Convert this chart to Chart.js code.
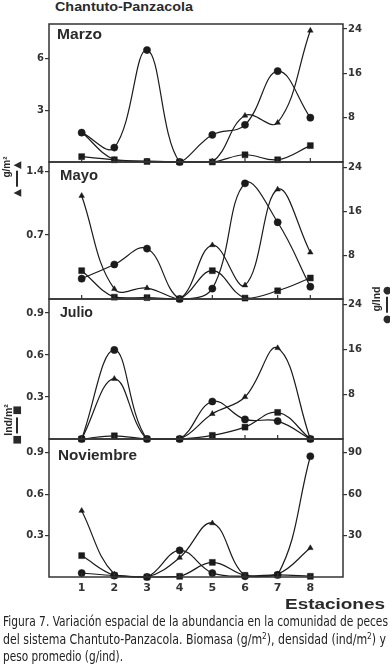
<!DOCTYPE html>
<html>
<head>
<meta charset="utf-8">
<script src="https://cdn.jsdelivr.net/npm/chart.js@4.4.0/dist/chart.umd.min.js"></script>
<style>
  body { margin: 0; background: #fff; }
  #wrap { position: relative; width: 390px; height: 671px; overflow: hidden; font-family: "Liberation Sans", Arial, sans-serif; color: #2a2a2a; }
  canvas { position: absolute; left: 0; }
  .txt { position: absolute; white-space: nowrap; font-weight: bold; line-height: 1; transform-origin: 0 0; }
  .mes { font-size: 14px; }
  .rot { position: absolute; white-space: nowrap; font-weight: bold; line-height: 1; transform: translate(-50%, -50%) rotate(-90deg); }
  .sym { position: absolute; white-space: nowrap; line-height: 1; font-size: 10px; font-family: "DejaVu Sans", sans-serif; transform: translate(-50%, -50%) rotate(-90deg); }
  .sym i { display: inline-block; width: 16px; height: 1.3px; background: #2a2a2a; vertical-align: middle; margin: 0 2px; }
  .cap { position: absolute; left: 3px; white-space: nowrap; font-family: "Liberation Sans Narrow", "DejaVu Sans Condensed", "Liberation Sans", sans-serif; font-size: 13.5px; line-height: 1; color: #222; transform-origin: 0 0; }
</style>
</head>
<body>
<div id="wrap">
  <div class="txt" id="titulo" style="left:55px;top:0px;font-size:13.5px;">Chantuto-Panzacola</div>

  <canvas id="c1" width="390" height="158" style="top:14px"></canvas>
  <canvas id="c2" width="390" height="157" style="top:152px"></canvas>
  <canvas id="c3" width="390" height="160" style="top:289px"></canvas>
  <canvas id="c4" width="390" height="170" style="top:429px"></canvas>

  <div class="txt mes" id="m1" style="left:57px;top:27px;">Marzo</div>
  <div class="txt mes" id="m2" style="left:60px;top:168px;">Mayo</div>
  <div class="txt mes" id="m3" style="left:60px;top:305px;">Julio</div>
  <div class="txt mes" id="m4" style="left:58px;top:448px;">Noviembre</div>

  <div class="rot" style="left:7px;top:167px;font-size:10px;">g/m²</div>
  <div class="sym" style="left:17px;top:179px;">▲<i></i>▲</div>
  <div class="rot" style="left:8px;top:420px;font-size:10.5px;">Ind/m²</div>
  <div class="sym" style="left:17px;top:425px;">■<i></i>■</div>
  <div class="rot" style="left:376px;top:299px;font-size:10.5px;">g/Ind</div>
  <div class="sym" style="left:387px;top:305px;">●<i></i>●</div>

  <div class="txt" id="estaciones" style="left:285px;top:596px;font-size:15px;">Estaciones</div>

  <div class="cap" id="cap1" style="top:615px;">Figura 7. Variación espacial de la abundancia en la comunidad de peces</div>
  <div class="cap" id="cap2" style="top:633px;">del sistema Chantuto-Panzacola. Biomasa (g/m<sup style="font-size:9px;line-height:0">2</sup>), densidad (ind/m<sup style="font-size:9px;line-height:0">2</sup>) y</div>
  <div class="cap" id="cap3" style="top:650px;">peso promedio (g/ind).</div>
</div>

<script>
// estaciones de muestreo
var estaciones = [1, 2, 3, 4, 5, 6, 7, 8];

// Marzo
var biomasaMarzo = [1.72, 0.13, 0.05, 0, 0, 2.69, 2.28, 7.62];
var densidadMarzo = [0.31, 0.13, 0.03, 0, 0, 0.42, 0.13, 0.95];
var pesoMarzo = [5.3, 2.6, 20.2, 0, 4.9, 6.7, 16.4, 8.0];

// Mayo
var biomasaMayo = [1.13, 0.11, 0.12, 0, 0.59, 0.15, 1.2, 0.51];
var densidadMayo = [0.31, 0.02, 0.015, 0, 0.31, 0.01, 0.09, 0.23];
var pesoMayo = [3.7, 6.3, 9.2, 0, 1.9, 21.1, 14.0, 2.25];

// Julio
var biomasaJulio = [0, 0.43, 0, 0, 0.18, 0.30, 0.65, 0];
var densidadJulio = [0, 0.023, 0, 0, 0.026, 0.085, 0.19, 0];
var pesoJulio = [0, 15.9, 0, 0, 6.7, 3.5, 3.2, 0];

// Noviembre
var biomasaNov = [0.48, 0.02, 0, 0.14, 0.39, 0.01, 0.02, 0.21];
var densidadNov = [0.155, 0.012, 0, 0.005, 0.106, 0.012, 0.015, 0.005];
var pesoNov = [2.9, 1, 0, 19.3, 2.9, 0.5, 1.5, 87.5];

// ticks de cada eje
var ticksIzqMarzo = [3, 6];
var ticksIzqMayo = [0.7, 1.4];
var ticksIzqJulio = [0.3, 0.6, 0.9];
var ticksIzqNov = [0.3, 0.6, 0.9];
var ticksDerMarzo = [8, 16, 24];
var ticksDerMayo = [8, 16, 24];
var ticksDerJulio = [8, 16, 24];
var ticksDerNov = [30, 60, 90];

var tinta = '#1b1b1b';
var ejeColor = '#333';
var fuenteTicks = '"DejaVu Sans", sans-serif';

Chart.defaults.font.family = '"Liberation Sans", Arial, sans-serif';
Chart.defaults.color = ejeColor;

// marco del panel y marcas internas del eje x
var marco = {
  id: 'marco',
  afterDraw: function(chart) {
    var a = chart.chartArea, ctx = chart.ctx, x = chart.scales.x;
    ctx.save();
    ctx.strokeStyle = ejeColor;
    ctx.lineWidth = 1.5;
    ctx.strokeRect(a.left, a.top, a.right - a.left, a.bottom - a.top);
    ctx.lineWidth = 1.2;
    ctx.beginPath();
    estaciones.forEach(function(e) {
      var px = x.getPixelForValue(e);
      ctx.moveTo(px, a.bottom);
      ctx.lineTo(px, a.bottom - 4);
    });
    ctx.stroke();
    ctx.restore();
  }
};

function serie(vals, estilo, radio, eje) {
  return {
    data: estaciones.map(function(e, i) { return {x: e, y: vals[i]}; }),
    yAxisID: eje,
    borderColor: tinta,
    backgroundColor: tinta,
    borderWidth: 1.2,
    pointStyle: estilo,
    pointRadius: radio,
    pointBorderWidth: 0.5,
    tension: 0.4,
    clip: false
  };
}

function ejeY(pos, max, ticks, ancho) {
  return {
    position: pos,
    min: 0,
    max: max,
    afterBuildTicks: function(s) { s.ticks = ticks.map(function(v) { return {value: v}; }); },
    afterFit: function(s) { s.width = ancho; },
    grid: { drawOnChartArea: false, drawTicks: true, tickLength: 4, color: ejeColor, lineWidth: 1.2 },
    border: { display: false },
    ticks: { padding: 1, color: ejeColor, font: { family: fuenteTicks, size: 10, weight: 'bold' }, callback: function(v) { return String(v); } }
  };
}

function panel(id, biom, dens, peso, maxIzq, ticksIzq, maxDer, ticksDer, ultimo) {
  new Chart(document.getElementById(id), {
    type: 'line',
    data: {
      datasets: [
        serie(biom, 'triangle', 3.2, 'yL'),
        serie(dens, 'rect', 4.2, 'yL'),
        serie(peso, 'circle', 3.6, 'yR')
      ]
    },
    options: {
      responsive: false,
      animation: false,
      devicePixelRatio: 1,
      layout: { padding: { top: 10, bottom: ultimo ? 0 : 10 } },
      plugins: { legend: { display: false }, tooltip: { enabled: false } },
      scales: {
        x: {
          type: 'linear', min: 0, max: 9,
          display: ultimo,
          afterBuildTicks: function(s) { s.ticks = estaciones.map(function(v) { return {value: v}; }); },
          afterFit: function(s) { if (ultimo) s.height = 22; },
          grid: { display: false, drawTicks: false },
          border: { display: false },
          ticks: { padding: 5, color: ejeColor, font: { family: fuenteTicks, size: 11, weight: 'bold' } }
        },
        yL: ejeY('left', maxIzq, ticksIzq, 49),
        yR: ejeY('right', maxDer, ticksDer, 47)
      }
    },
    plugins: [marco]
  });
}

panel('c1', biomasaMarzo, densidadMarzo, pesoMarzo, 8, ticksIzqMarzo, 24.9, ticksDerMarzo, false);
panel('c2', biomasaMayo, densidadMayo, pesoMayo, 1.5, ticksIzqMayo, 25, ticksDerMayo, false);
panel('c3', biomasaJulio, densidadJulio, pesoJulio, 1.0, ticksIzqJulio, 25, ticksDerJulio, false);
panel('c4', biomasaNov, densidadNov, pesoNov, 1.0, ticksIzqNov, 100, ticksDerNov, true);

// ajustar anchos de textos al original
function ajustar(id, ancho) {
  var el = document.getElementById(id);
  var w = el.getBoundingClientRect().width;
  el.style.transform = 'scaleX(' + (ancho / w) + ')';
}
ajustar('titulo', 138);
ajustar('m1', 45);
ajustar('m2', 38);
ajustar('m3', 33);
ajustar('m4', 79);
ajustar('estaciones', 100);
ajustar('cap1', 385);
ajustar('cap2', 383);
ajustar('cap3', 120);
</script>
</body>
</html>
